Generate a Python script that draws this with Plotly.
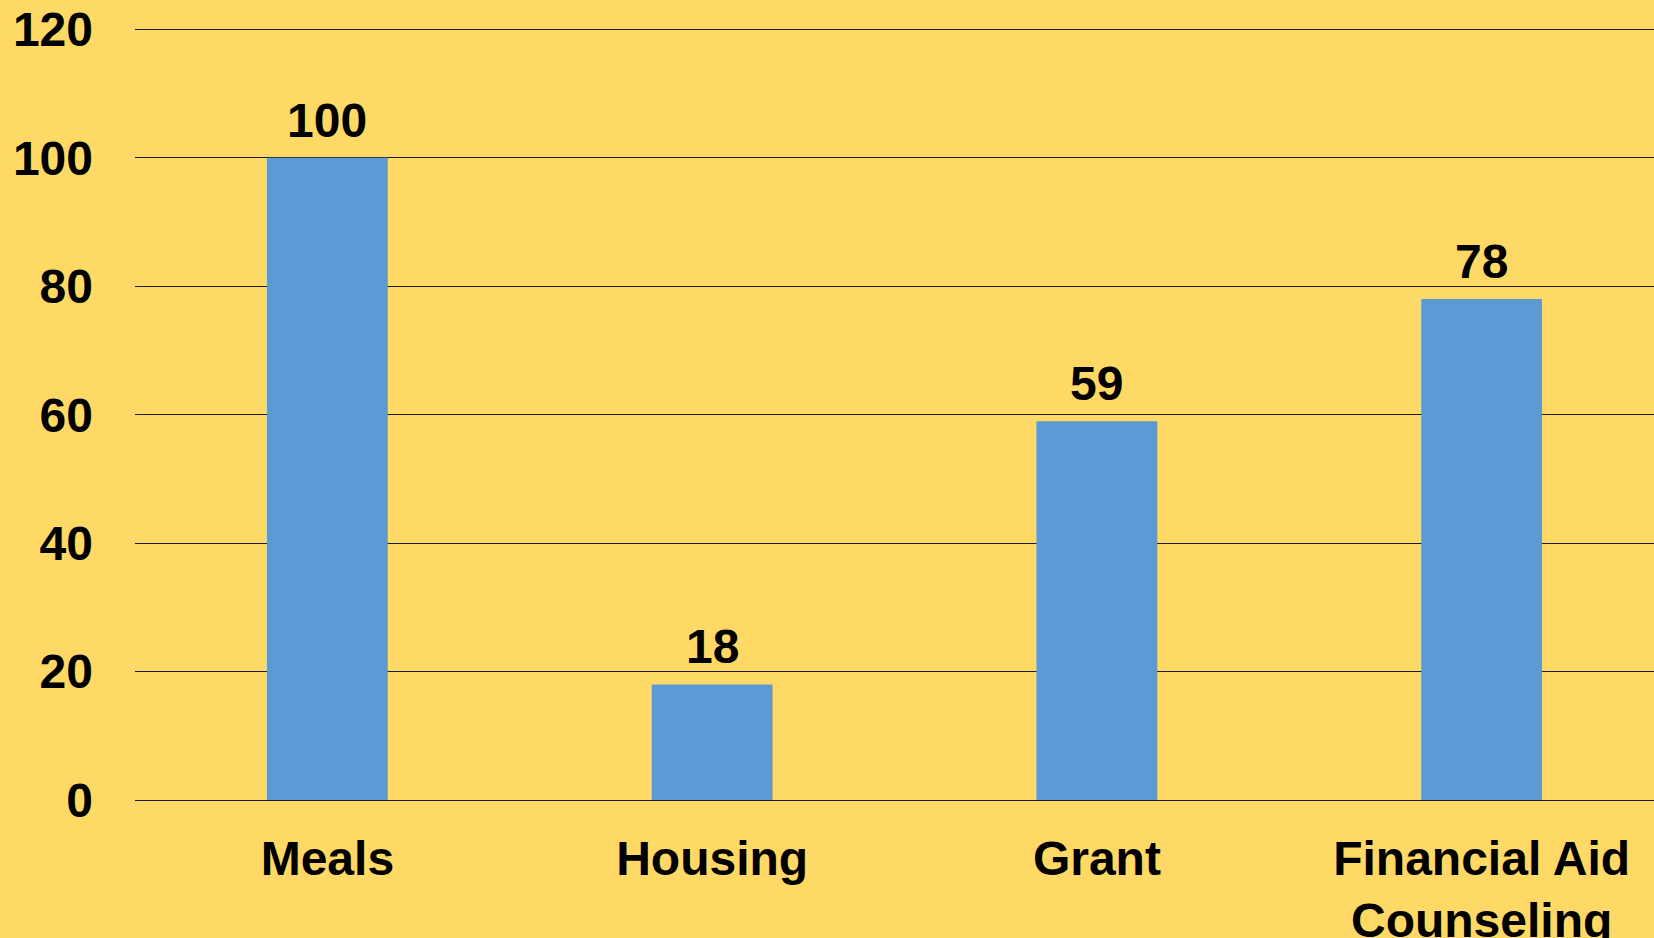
import plotly.graph_objects as go

categories = ["Meals", "Housing", "Grant", "Financial Aid<br>Counseling"]
values = [100, 18, 59, 78]
y_ticks = [0, 20, 40, 60, 80, 100, 120]

BG = "#FFD966"
BAR = "#5B9BD5"
FONT = "Liberation Sans, Arial, sans-serif"

fig = go.Figure()
fig.add_trace(go.Bar(
    x=categories, y=values, marker=dict(color=BAR, line=dict(width=0)),
    cliponaxis=False,
))
for c, v in zip(categories, values):
    fig.add_annotation(
        x=c, y=v, text=str(v), showarrow=False, yanchor="bottom", yshift=9,
        font=dict(family=FONT, size=48, color="black", weight="bold"),
    )

fig.update_layout(
    width=1654, height=938,
    paper_bgcolor=BG, plot_bgcolor=BG,
    margin=dict(l=135, r=0, t=23, b=138),
    bargap=0.686,
    showlegend=False,
    font=dict(family=FONT, size=48, color="black", weight="bold"),
)
fig.update_xaxes(
    range=[-0.5, 3.448], showgrid=False, zeroline=False, showline=False,
    ticks="", tickfont=dict(family=FONT, size=48, color="black", weight="bold"),
    ticklabelstandoff=26, automargin=False,
)
fig.update_yaxes(
    range=[0, 121], tickvals=y_ticks, showgrid=True, gridcolor="#1a1a1a", gridwidth=1.3,
    zeroline=True, zerolinecolor="#1a1a1a", zerolinewidth=1.3, showline=False,
    ticks="", tickfont=dict(family=FONT, size=48, color="black", weight="bold"),
    ticklabelstandoff=41, automargin=False,
)
fig.write_html(
    "out.html",
    config={"displayModeBar": False},
    post_script="document.body.style.margin='0';document.body.style.background='#FFD966';",
)
